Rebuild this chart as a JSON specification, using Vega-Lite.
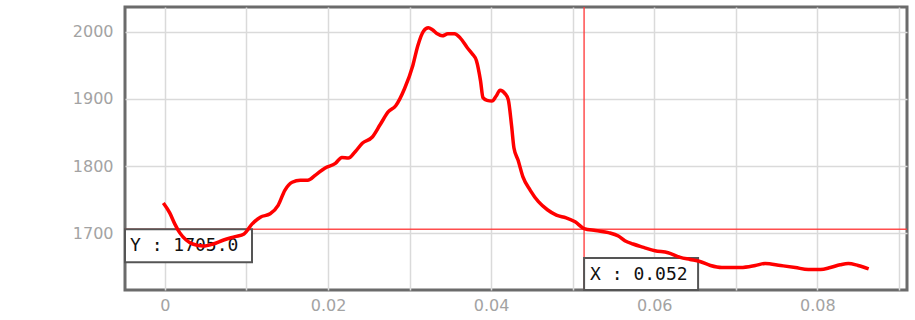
{
  "$schema": "https://vega.github.io/schema/vega-lite/v6.json",
  "width": 782,
  "height": 283,
  "autosize": "none",
  "padding": {"left": 125, "top": 7, "right": 8, "bottom": 30},
  "background": "white",
  "config": {
    "view": {"stroke": "#6b6b6b", "strokeWidth": 3},
    "axis": {
      "domain": false,
      "ticks": false,
      "gridColor": "#dadada",
      "gridWidth": 1.5,
      "labelColor": "#a3a3a3",
      "labelFont": "DejaVu Sans",
      "labelFontSize": 16,
      "title": null
    }
  },
  "datasets": {
    "series": [
      {"x": -0.0002, "y": 1745}, {"x": 0.0006, "y": 1730}, {"x": 0.0012, "y": 1714}, {"x": 0.0018, "y": 1701},
      {"x": 0.0026, "y": 1690}, {"x": 0.0034, "y": 1684}, {"x": 0.0047, "y": 1681}, {"x": 0.0059, "y": 1684},
      {"x": 0.0072, "y": 1690}, {"x": 0.0086, "y": 1695}, {"x": 0.0097, "y": 1699}, {"x": 0.0107, "y": 1714},
      {"x": 0.0117, "y": 1724}, {"x": 0.0129, "y": 1729}, {"x": 0.0139, "y": 1742}, {"x": 0.0147, "y": 1764},
      {"x": 0.0156, "y": 1776}, {"x": 0.0166, "y": 1779}, {"x": 0.0175, "y": 1779}, {"x": 0.0185, "y": 1787},
      {"x": 0.0196, "y": 1797}, {"x": 0.0209, "y": 1804}, {"x": 0.0217, "y": 1813}, {"x": 0.0225, "y": 1812},
      {"x": 0.0233, "y": 1821}, {"x": 0.0242, "y": 1834}, {"x": 0.0254, "y": 1843}, {"x": 0.0264, "y": 1862},
      {"x": 0.0274, "y": 1881}, {"x": 0.0283, "y": 1890}, {"x": 0.0294, "y": 1916}, {"x": 0.0304, "y": 1950},
      {"x": 0.031, "y": 1979}, {"x": 0.0317, "y": 2001}, {"x": 0.0323, "y": 2006}, {"x": 0.0328, "y": 2003},
      {"x": 0.0334, "y": 1997}, {"x": 0.034, "y": 1994}, {"x": 0.0347, "y": 1997}, {"x": 0.0355, "y": 1997},
      {"x": 0.0362, "y": 1991}, {"x": 0.0371, "y": 1976}, {"x": 0.0377, "y": 1967}, {"x": 0.0382, "y": 1957},
      {"x": 0.0387, "y": 1927}, {"x": 0.039, "y": 1902}, {"x": 0.0395, "y": 1898}, {"x": 0.0401, "y": 1897},
      {"x": 0.0406, "y": 1904}, {"x": 0.0411, "y": 1913}, {"x": 0.0417, "y": 1908}, {"x": 0.0421, "y": 1899},
      {"x": 0.0425, "y": 1861}, {"x": 0.0428, "y": 1827}, {"x": 0.0433, "y": 1809}, {"x": 0.0439, "y": 1784},
      {"x": 0.0448, "y": 1764}, {"x": 0.0458, "y": 1747}, {"x": 0.0469, "y": 1735}, {"x": 0.048, "y": 1727},
      {"x": 0.0492, "y": 1723}, {"x": 0.0503, "y": 1717}, {"x": 0.0514, "y": 1707}, {"x": 0.0528, "y": 1704},
      {"x": 0.0544, "y": 1701}, {"x": 0.0556, "y": 1696}, {"x": 0.0564, "y": 1689}, {"x": 0.0574, "y": 1684},
      {"x": 0.0587, "y": 1679}, {"x": 0.0601, "y": 1674}, {"x": 0.0617, "y": 1671}, {"x": 0.0632, "y": 1664},
      {"x": 0.0644, "y": 1661}, {"x": 0.0656, "y": 1658}, {"x": 0.0669, "y": 1652}, {"x": 0.0683, "y": 1649},
      {"x": 0.0706, "y": 1649}, {"x": 0.0724, "y": 1652}, {"x": 0.0736, "y": 1655}, {"x": 0.0755, "y": 1652},
      {"x": 0.0773, "y": 1649}, {"x": 0.0789, "y": 1646}, {"x": 0.0804, "y": 1646}, {"x": 0.0816, "y": 1649},
      {"x": 0.0828, "y": 1653}, {"x": 0.0838, "y": 1655}, {"x": 0.085, "y": 1652}, {"x": 0.0863, "y": 1647}
    ],
    "cursor": [
      {"cx": 0.0514, "cy": 1706, "xlabel": "X : 0.052", "ylabel": "Y : 1705.0"}
    ]
  },
  "layer": [
    {
      "data": {"name": "cursor"},
      "mark": {"type": "rule", "color": "#ff3b3b", "strokeWidth": 1.5, "opacity": 0.9},
      "encoding": {"x": {"field": "cx", "type": "quantitative"}}
    },
    {
      "data": {"name": "cursor"},
      "mark": {"type": "rule", "color": "#ff3b3b", "strokeWidth": 1.5, "opacity": 0.9},
      "encoding": {"y": {"field": "cy", "type": "quantitative"}}
    },
    {
      "data": {"name": "cursor"},
      "mark": {"type": "rect", "fill": "white", "stroke": "#555555", "strokeWidth": 2, "y2Offset": 33},
      "encoding": {
        "x": {"value": 0},
        "x2": {"value": 127},
        "y": {"field": "cy", "type": "quantitative"},
        "y2": {"field": "cy"}
      }
    },
    {
      "data": {"name": "cursor"},
      "mark": {"type": "text", "align": "left", "baseline": "middle", "font": "DejaVu Sans Mono", "fontSize": 18, "color": "#111111", "xOffset": 5, "yOffset": 17},
      "encoding": {
        "x": {"value": 0},
        "y": {"field": "cy", "type": "quantitative"},
        "text": {"field": "ylabel"}
      }
    },
    {
      "data": {"name": "cursor"},
      "mark": {"type": "rect", "fill": "white", "stroke": "#555555", "strokeWidth": 2, "x2Offset": 114, "y2Offset": -32},
      "encoding": {
        "x": {"field": "cx", "type": "quantitative"},
        "x2": {"field": "cx"},
        "y": {"value": {"expr": "height"}},
        "y2": {"value": {"expr": "height"}}
      }
    },
    {
      "data": {"name": "cursor"},
      "mark": {"type": "text", "align": "left", "baseline": "middle", "font": "DejaVu Sans Mono", "fontSize": 18, "color": "#111111", "xOffset": 6, "yOffset": -15},
      "encoding": {
        "x": {"field": "cx", "type": "quantitative"},
        "y": {"value": {"expr": "height"}},
        "text": {"field": "xlabel"}
      }
    },
    {
      "data": {"name": "series"},
      "mark": {"type": "line", "color": "#ff0000", "strokeWidth": 3.5, "interpolate": "monotone", "clip": true},
      "encoding": {
        "x": {
          "field": "x", "type": "quantitative",
          "scale": {"domain": [-0.0049, 0.091], "nice": false, "zero": false},
          "axis": {
            "values": [0, 0.01, 0.02, 0.03, 0.04, 0.05, 0.06, 0.07, 0.08, 0.09],
            "labelExpr": "round(datum.value*100) % 2 == 0 ? format(datum.value, '~g') : ''",
            "labelPadding": 7
          }
        },
        "y": {
          "field": "y", "type": "quantitative",
          "scale": {"domain": [1615.5, 2037], "nice": false, "zero": false},
          "axis": {"values": [1700, 1800, 1900, 2000], "format": "d", "labelPadding": 12}
        }
      }
    }
  ]
}
